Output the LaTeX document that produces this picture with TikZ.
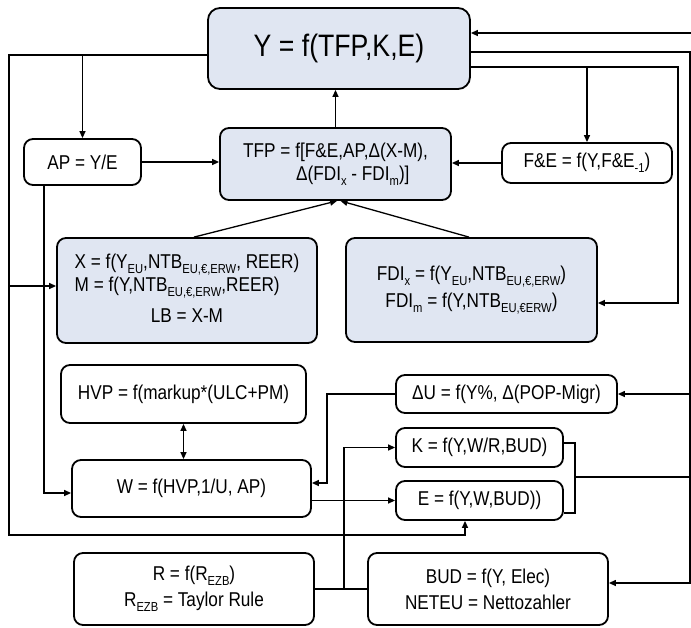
\documentclass[tikz,border=0pt]{standalone}
\usepackage{fontspec}
\setmainfont{Liberation Sans}[FakeStretch=0.86]
\usepackage{xcolor}
\usetikzlibrary{arrows.meta}
\definecolor{eqblue}{RGB}{224,230,242}
\newcommand{\lowsub}[1]{\raisebox{-0.27em}{\fontsize{13}{13}\selectfont #1}}

\begin{document}
\begin{tikzpicture}[
    x=1pt, y=-1pt,
    eq/.style={rectangle, draw, rounded corners=9pt, line width=1.8pt, fill=white, align=center, inner sep=0pt, font=\fontsize{20}{23}\selectfont},
    core/.style={eq, fill=eqblue},
    arrow/.style={-{Triangle[length=7pt,width=6pt]}, line width=1.3pt},
    dblarrow/.style={{Triangle[length=7pt,width=6pt]}-{Triangle[length=7pt,width=6pt]}, line width=1.3pt},
    link/.style={line width=1.8pt}
]
    \useasboundingbox (0,0) rectangle (691,627);
    % Output
    \node[core, rounded corners=12pt, minimum width=262pt, minimum height=81pt, font=\fontsize{31}{36}\selectfont] (Y) at (339,48.5) {Y = f(TFP,K,E)};
    % Productivity
    \node[eq, minimum width=117pt, minimum height=46pt] (AP) at (82.5,162) {AP = Y/E};
    \node[core, minimum width=231pt, minimum height=72pt, align=left] (TFP) at (335.5,164) {TFP = f[F\&E,AP,Δ(X-M),\\\hspace*{53pt}Δ(FDI\lowsub{x} - FDI\lowsub{m})]};
    \node[eq, minimum width=170pt, minimum height=40pt] (FE) at (587,163) {F\&E = f(Y,F\&E\lowsub{-1})};
    % Trade and FDI
    \node[core, minimum width=260pt, minimum height=105pt] (X) at (187,290.5) {\begin{tabular}{@{}l@{}}X = f(Y\lowsub{EU},NTB\lowsub{EU,€,ERW}, REER)\\M = f(Y,NTB\lowsub{EU,€,ERW},REER)\\[8pt]\multicolumn{1}{@{}c@{}}{LB = X-M}\end{tabular}};
    \node[core, minimum width=251pt, minimum height=104pt] (FDI) at (471.5,290) {FDI\lowsub{x} = f(Y\lowsub{EU},NTB\lowsub{EU,€,ERW})\\[4pt]FDI\lowsub{m} = f(Y,NTB\lowsub{EU,€ERW})};
    % Prices, wages, labour
    \node[eq, minimum width=245pt, minimum height=58pt] (HVP) at (183.5,394) {HVP = f(markup*(ULC+PM)};
    \node[eq, minimum width=221pt, minimum height=38pt] (DU) at (506.5,394) {ΔU = f(Y\%, Δ(POP-Migr)};
    \node[eq, minimum width=239pt, minimum height=57pt] (W) at (191.5,488.5) {W = f(HVP,1/U, AP)};
    \node[eq, minimum width=167pt, minimum height=39pt] (K) at (479.5,447.5) {K = f(Y,W/R,BUD)};
    \node[eq, minimum width=167pt, minimum height=39pt] (E) at (479.5,500.5) {E = f(Y,W,BUD))};
    % Policy
    \node[eq, minimum width=240pt, minimum height=72pt, font=\fontsize{20}{26}\selectfont] (R) at (194,589) {R = f(R\lowsub{EZB})\\R\lowsub{EZB} = Taylor Rule};
    \node[eq, minimum width=240pt, minimum height=72pt, font=\fontsize{20}{26}\selectfont] (BUD) at (488,589) {BUD = f(Y, Elec)\\NETEU = Nettozahler};
    % Coordinates
    \coordinate (yl) at (9,55);
    \coordinate (lb) at (465,535);
    \coordinate (ytop) at (691,33);
    \coordinate (rv) at (690,52);
    \coordinate (fv) at (678,67);
    \coordinate (wu) at (327,483);
    \coordinate (rk) at (344,589);
    \coordinate (ke) at (575,477);
    % Arrows left
    \draw[arrow] (Y.west |- yl) -- (yl) |- (lb) -- (lb |- E.south);
    \draw[arrow] (yl -| AP.north) -- (AP.north);
    \draw[arrow] (yl |- 0,286) -- ([yshift=4.5pt]X.west);
    \draw[arrow] (AP.east) -- (AP.east -| TFP.west);
    \draw[arrow] (TFP.north) -- (TFP.north |- Y.south);
    \draw[arrow] (FE.west) -- (FE.west -| TFP.east);
    \draw[arrow] ([xshift=7pt]X.north) -- ([xshift=1.5pt]TFP.south);
    \draw[arrow] ([xshift=-2.5pt]FDI.north) -- ([xshift=5pt]TFP.south);
    % Arrows right
    \draw[arrow] (ytop) -- (ytop -| Y.east);
    \draw[arrow] (rv -| Y.east) -- (rv) |- ([yshift=6pt]BUD.east);
    \draw[arrow] (rv |- DU.east) -- (DU.east);
    \draw[arrow] (fv -| Y.east) -- (fv) |- ([yshift=-13pt]FDI.east);
    \draw[arrow] (fv -| FE.north) -- (FE.north);
    % Wages
    \draw[arrow] ([xshift=-38.5pt]AP.south) |- ([yshift=-4.5pt]W.west);
    \draw[dblarrow] (HVP.south) -- (HVP.south |- W.north);
    \draw[arrow] (DU.west) -| (wu) -- (wu -| W.east);
    \draw[arrow] (W.east |- E.west) -- (E.west);
    % Capital and employment
    \draw[link] (R.east) -- (BUD.west);
    \draw[arrow] (rk) |- (K.west);
    \draw[link] ([yshift=4.5pt]K.east) -| (ke) |- ([yshift=-12.5pt]E.east);
    \draw[link] (ke) -- (ke -| rv);
\end{tikzpicture}
\end{document}
